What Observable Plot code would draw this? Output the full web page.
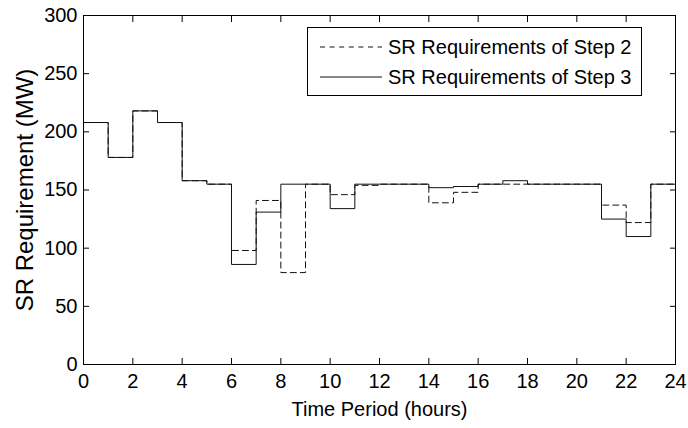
<!DOCTYPE html>
<html><head><meta charset="utf-8">
<script src="https://cdn.jsdelivr.net/npm/d3@7"></script>
<script src="https://cdn.jsdelivr.net/npm/@observablehq/plot@0.6"></script>
<style>body{margin:0;background:#fff} #chart{width:688px;height:428px}</style>
</head><body><div id="chart"></div>
<script>
const hours = [0,1,2,3,4,5,6,7,8,9,10,11,12,13,14,15,16,17,18,19,20,21,22,23];
const step2 = [208,178,218,208,158,155,98,141,79,155,146,154,155,155,139,148,155,155,155,155,155,137,122,155];
const step3 = [208,178,218,208,158,155,86,131,155,155,134,155,155,155,152,153,155,158,155,155,155,125,110,155];
const xTicks = [0,2,4,6,8,10,12,14,16,18,20,22,24];
const yTicks = [0,50,100,150,200,250,300];
const seriesNames = ["SR Requirements of Step 2", "SR Requirements of Step 3"];
const xLabel = "Time Period (hours)";
const yLabel = "SR Requirement (MW)";

function steps(vals) {
  const pts = hours.map((h, i) => ({h, v: vals[i]}));
  pts.push({h: hours[hours.length - 1] + 1, v: vals[vals.length - 1]});
  return pts;
}

const font = "'Liberation Sans', Arial, Helvetica, sans-serif";
const plot = Plot.plot({
  width: 688, height: 428,
  marginLeft: 83, marginRight: 13, marginTop: 15, marginBottom: 64,
  style: {fontFamily: font, fontSize: "20px", color: "#000", background: "#fff"},
  x: {domain: [0, 24]},
  y: {domain: [0, 300]},
  marks: [
    Plot.line(steps(step3), {x: "h", y: "v", curve: "step-after", stroke: "#111", strokeWidth: 1}),
    Plot.line(steps(step2), {x: "h", y: "v", curve: "step-after", stroke: "#111", strokeWidth: 1, strokeDasharray: "6,4"}),
    Plot.frame({stroke: "#000"}),
    Plot.axisX(xTicks, {anchor: "bottom", tickSize: -6, tickPadding: 15, fontSize: 20, label: null}),
    Plot.axisX(xTicks, {anchor: "top", tickSize: -6, tickFormat: () => "", label: null}),
    Plot.axisY(yTicks, {anchor: "left", tickSize: -6, tickPadding: 12, fontSize: 20, label: null}),
    Plot.axisY(yTicks, {anchor: "right", tickSize: -6, tickFormat: () => "", label: null}),
    Plot.text([xLabel], {frameAnchor: "bottom", dy: 51, text: d => d, fontSize: 20, textAnchor: "middle"}),
    Plot.text([yLabel], {frameAnchor: "left", dx: -58, rotate: -90, text: d => d, fontSize: 24, textAnchor: "middle"})
  ]
});
document.getElementById("chart").appendChild(plot);

// legend inside the plot (upper right)
const svg = d3.select(plot);
const lg = svg.append("g").attr("font-family", font).attr("font-size", 20).attr("text-anchor", "start");
lg.append("rect").attr("x", 307.5).attr("y", 27.5).attr("width", 334).attr("height", 68)
  .attr("fill", "#fff").attr("stroke", "#000");
const rowsY = [47, 77];
seriesNames.forEach((name, i) => {
  lg.append("line").attr("x1", 320).attr("x2", 382).attr("y1", rowsY[i]).attr("y2", rowsY[i])
    .attr("stroke", "#111").attr("stroke-width", 1)
    .attr("stroke-dasharray", i === 0 ? "5,4.6" : null);
  lg.append("text").attr("x", 388).attr("y", rowsY[i]).attr("dy", "0.35em")
    .attr("text-anchor", "start").attr("fill", "#000").text(name);
});
</script>
</body></html>
